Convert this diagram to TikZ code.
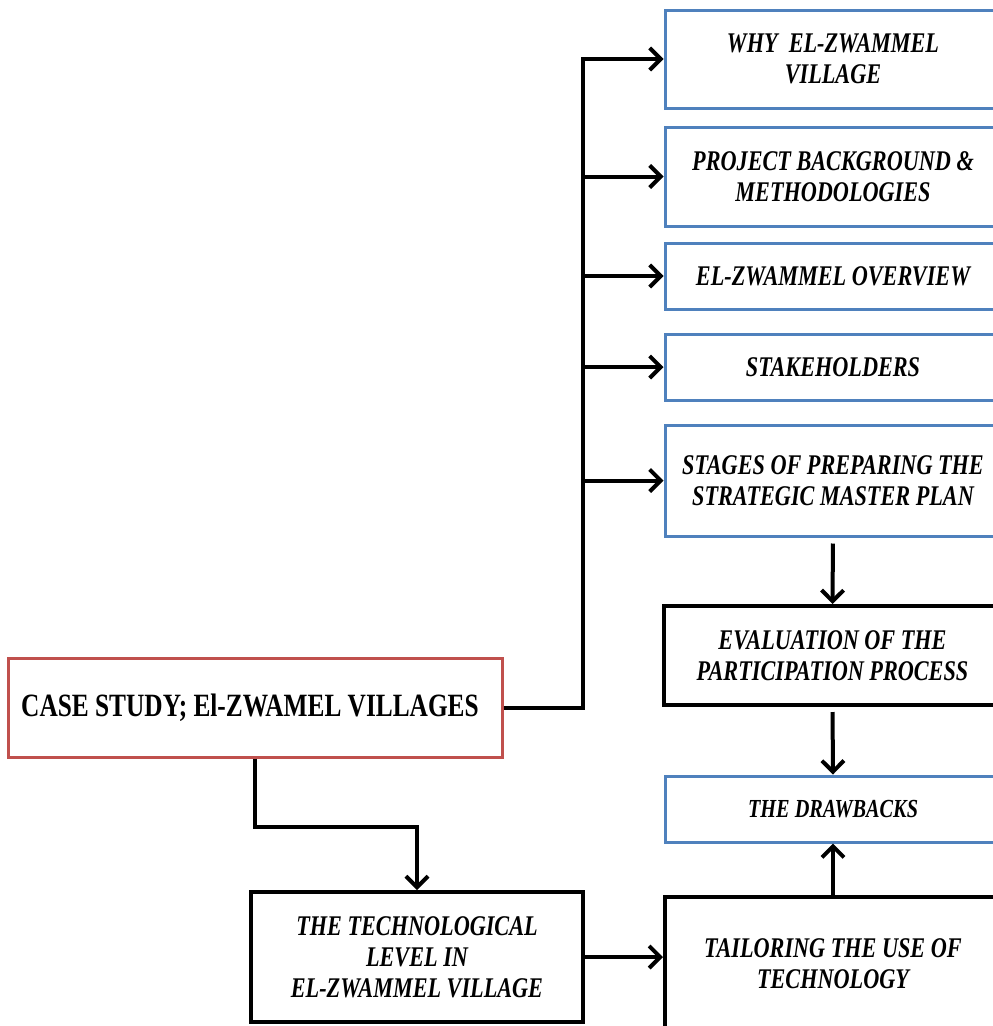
\documentclass[tikz,border=0pt]{standalone}
\usepackage{fontspec}
\setmainfont{Liberation Serif}[FakeStretch=0.78]
\usetikzlibrary{arrows.meta}
\definecolor{boxblue}{HTML}{4F81BD}
\definecolor{boxred}{HTML}{C0504D}
\begin{document}
\begin{tikzpicture}[x=1pt,y=-1pt,
  base/.style={rectangle,fill=white,align=center,inner sep=0pt,
    font=\bfseries\itshape\fontsize{28.5}{31}\selectfont},
  bluebox/.style={base,draw=boxblue,line width=3pt},
  blackbox/.style={base,draw=black,line width=4pt},
  redbox/.style={base,draw=boxred,line width=3pt,
    font=\bfseries\fontsize{32.5}{36}\selectfont},
  link/.style={draw=black,line width=4pt},
  arr/.style={link,-{Straight Barb[length=11pt,width=22pt]}},
]
\useasboundingbox (0,0) rectangle (993,1026);
\clip (0,0) rectangle (993,1026);

% right column of topics
\node[bluebox,minimum width=336pt,minimum height=98pt] (why) at (833,59)
  {WHY\ \ EL-ZWAMMEL\\VILLAGE};
\node[bluebox,minimum width=336pt,minimum height=99pt] (proj) at (833,176.5)
  {PROJECT BACKGROUND \&\\METHODOLOGIES};
\node[bluebox,minimum width=336pt,minimum height=66pt] (over) at (833,276)
  {EL-ZWAMMEL OVERVIEW};
\node[bluebox,minimum width=336pt,minimum height=66pt] (stake) at (833,367)
  {STAKEHOLDERS};
\node[bluebox,minimum width=336pt,minimum height=111pt] (stages) at (833,480.5)
  {STAGES OF PREPARING THE\\STRATEGIC MASTER PLAN};
\node[blackbox,minimum width=337pt,minimum height=99pt] (eval) at (832.5,655.5)
  {EVALUATION OF THE\\PARTICIPATION PROCESS};
\node[bluebox,minimum width=336pt,minimum height=66pt] (drawb) at (833,809)
  {\fontsize{26}{29}\selectfont THE DRAWBACKS};
\node[blackbox,minimum width=336pt,minimum height=133pt] (tailor) at (833,963.5)
  {TAILORING THE USE OF\\TECHNOLOGY};

% left side
\node[redbox,minimum width=494pt,minimum height=99pt] (case) at (255,707.5)
  {CASE STUDY; El-ZWAMEL VILLAGES\hspace*{10pt}};
\node[blackbox,minimum width=332pt,minimum height=130pt] (tech) at (417,957)
  {THE TECHNOLOGICAL\\LEVEL IN\\EL-ZWAMMEL VILLAGE};

% trunk and branches
\coordinate (tr) at (583,707.5);
\draw[arr] (case.east) -- (tr) |- (why.west);
\draw[arr] (tr |- proj.west) -- (proj.west);
\draw[arr] (tr |- over.west) -- (over.west);
\draw[arr] (tr |- stake.west) -- (stake.west);
\draw[arr] (tr |- stages.west) -- (stages.west);

% vertical chain on the right
\draw[arr,shorten <=6pt] (stages.south) -- (eval.north);
\draw[arr,shorten <=5pt] (eval.south) -- (drawb.north);
\draw[arr] (tailor.north) -- (drawb.south);

% lower path
\draw[arr] (case.south) -- ++(0,68) -| (tech.north);
\draw[arr] (tech.east) -- (tech.east -| tailor.west);
\end{tikzpicture}
\end{document}
